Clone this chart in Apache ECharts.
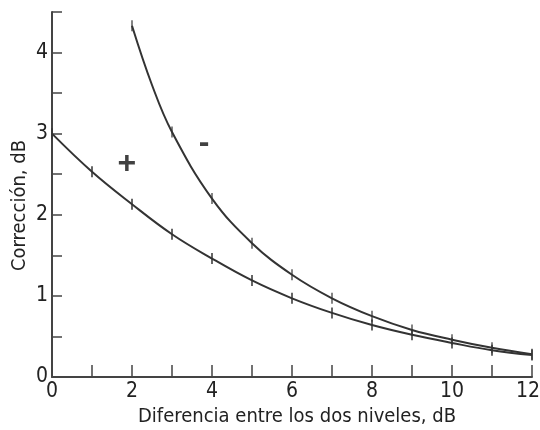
<!DOCTYPE html>
<html><head><meta charset="utf-8">
<script src="https://cdn.jsdelivr.net/npm/echarts@6/dist/echarts.min.js"></script>
<style>html,body{margin:0;padding:0;background:#fff}#c{width:540px;height:430px}</style>
</head><body><div id="c"></div>
<script>
const plusX = [0,1,2,3,4,5,6,7,8,9,10,11,12];
const plusY = [3.0,2.53,2.13,1.76,1.46,1.19,0.97,0.79,0.64,0.52,0.42,0.33,0.27];
const minusX = [2,2.5,3,4,5,6,7,8,9,10,11,12];
const minusY = [4.33,3.6,3.02,2.2,1.65,1.26,0.97,0.75,0.58,0.46,0.36,0.28];
const minusTickX = [2,3,4,5,6,7,8,9,10,11,12];
const signLabels = [{x:1.87,y:2.63,t:'+'},{x:3.8,y:2.88,t:'-'}];
const xTitle = 'Diferencia entre los dos niveles, dB';
const yTitle = 'Corrección, dB';

const ink = '#333';
const FONT = '"Liberation Sans Narrow", "DejaVu Sans Condensed", "Liberation Sans"';
const chart = echarts.init(document.getElementById('c'));
const pair = (xs, ys) => xs.map((x,i)=>[x, ys[i]]);
const minusPts = pair(minusX, minusY);
chart.setOption({
  backgroundColor:'#fff',
  animation:false,
  grid:{left:52,right:8,top:12,bottom:53,outerBoundsMode:'none',containLabel:false},
  textStyle:{fontFamily:FONT},
  xAxis:{type:'value',min:0,max:12,interval:1,
    name:xTitle,nameLocation:'middle',nameGap:26,
    nameTextStyle:{fontSize:20,color:'#222',fontFamily:FONT,verticalAlign:'top',padding:[0,0,0,10]},
    axisLine:{lineStyle:{color:'#444',width:2}},
    axisTick:{inside:true,length:12,lineStyle:{color:'#444',width:1.5}},
    axisLabel:{fontSize:21,color:'#222',margin:4,fontFamily:FONT,
      formatter:v=> (v%2!==0? '' : (v===12 ? '{m|12}' : String(v))),
      rich:{m:{fontSize:21,color:'#222',fontFamily:FONT,padding:[0,8,0,0]}}},
    splitLine:{show:false}},
  yAxis:{type:'value',min:0,max:4.5,interval:0.5,
    name:yTitle,nameLocation:'middle',nameGap:22,nameRotate:90,nameMoveOverlap:false,
    nameTextStyle:{fontSize:20,color:'#222',fontFamily:FONT,padding:[0,22,0,0]},
    axisLine:{lineStyle:{color:'#444',width:2}},
    axisTick:{inside:true,length:10,lineStyle:{color:'#444',width:1.5}},
    axisLabel:{fontSize:21,color:'#222',margin:4,fontFamily:FONT,formatter:v=> (Number.isInteger(v)? String(v):'')},
    splitLine:{show:false}},
  series:[
    {type:'line',data:pair(plusX,plusY),smooth:0.4,symbol:'rect',symbolSize:[1.5,11],
     itemStyle:{color:ink},lineStyle:{color:ink,width:2}},
    {type:'line',data:minusPts,smooth:0.4,symbol:'none',
     lineStyle:{color:ink,width:2}},
    {type:'scatter',data:minusPts.filter(p=>minusTickX.includes(p[0])),symbol:'rect',symbolSize:[1.5,11],
     itemStyle:{color:ink}},
    {type:'scatter',data:signLabels.map(s=>({value:[s.x,s.y],label:{formatter:s.t}})),
     symbolSize:0,
     label:{show:true,position:'inside',fontSize:32,fontWeight:'bold',color:'#111',fontFamily:'Liberation Sans'}}
  ]
});
</script></body></html>
